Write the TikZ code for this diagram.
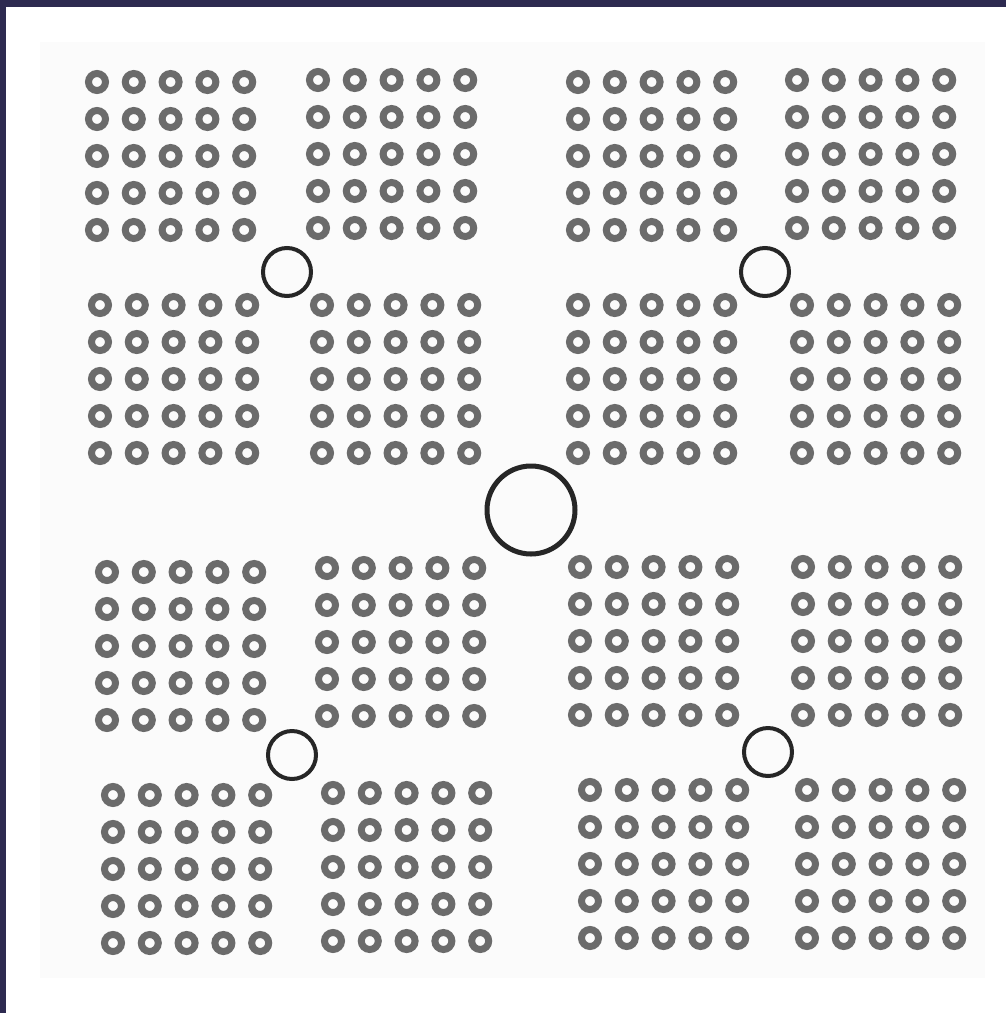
\documentclass[tikz,border=0pt]{standalone}
\definecolor{frameblue}{RGB}{45,42,80}
\begin{document}
\begin{tikzpicture}[x=1pt, y=-1pt,
  ring/.style={draw=black!58, line width=7pt},
  hub/.style={draw=black!85, line width=4pt}]
  % paper and frame
  \fill[white] (0,0) rectangle (1006,1013);
  \fill[black!1.5] (40,42) rectangle (985,978);
  \fill[frameblue] (0,0) rectangle (1006,7);
  \fill[frameblue] (0,0) rectangle (6,1013);

  % blocks of small rings, 5 x 5 each
  \foreach \bx/\by in {97/82, 318/80, 100/305, 322/305,
                       578/82, 797/80, 578/305, 802/305,
                       107/572, 327/568, 113/795, 333/793,
                       580/567, 803/567, 590/790, 807/790} {
    \foreach \i in {0,...,4}
      \foreach \j in {0,...,4}
        \draw[ring] (\bx+\i*36.8, \by+\j*37) circle (8.5pt);
  }

  % quadrant hubs
  \draw[hub] (287,272) circle (24pt);
  \draw[hub] (765,272) circle (24pt);
  \draw[hub] (292,755) circle (24pt);
  \draw[hub] (768,752) circle (24pt);

  % centre hub
  \draw[hub, line width=5pt] (531,510) circle (44pt);
\end{tikzpicture}
\end{document}
